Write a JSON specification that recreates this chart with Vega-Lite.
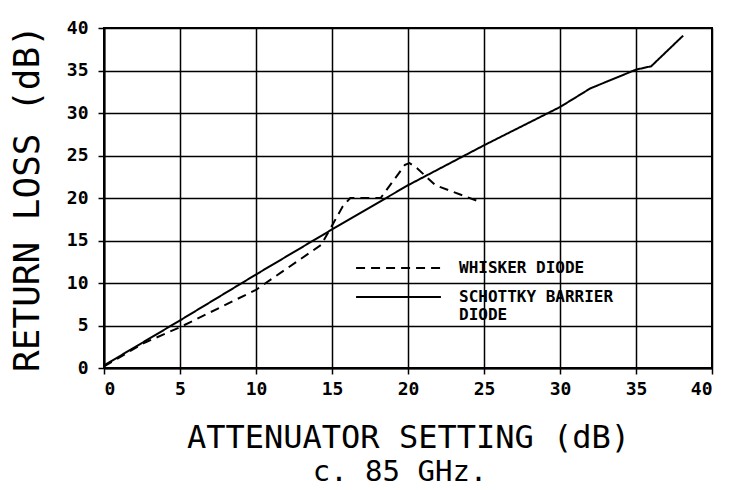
{
  "$schema": "https://vega.github.io/schema/vega-lite/v6.json",
  "autosize": {"type": "none"},
  "width": 608,
  "height": 340,
  "padding": {"left": 104, "top": 28, "right": 23, "bottom": 122},
  "background": "white",
  "title": {
    "text": "c. 85 GHz.",
    "orient": "bottom",
    "anchor": "middle",
    "font": "DejaVu Sans Mono",
    "fontSize": 29,
    "fontWeight": "normal",
    "color": "black",
    "offset": 5,
    "dx": -8
  },
  "data": {
    "values": [
      {"series": "SCHOTTKY BARRIER DIODE", "x": 0, "y": 0.3},
      {"series": "SCHOTTKY BARRIER DIODE", "x": 5, "y": 5.6},
      {"series": "SCHOTTKY BARRIER DIODE", "x": 10, "y": 11},
      {"series": "SCHOTTKY BARRIER DIODE", "x": 15, "y": 16.3},
      {"series": "SCHOTTKY BARRIER DIODE", "x": 20, "y": 21.5},
      {"series": "SCHOTTKY BARRIER DIODE", "x": 25, "y": 26.2},
      {"series": "SCHOTTKY BARRIER DIODE", "x": 30, "y": 30.7},
      {"series": "SCHOTTKY BARRIER DIODE", "x": 32, "y": 32.9},
      {"series": "SCHOTTKY BARRIER DIODE", "x": 35, "y": 35.1},
      {"series": "SCHOTTKY BARRIER DIODE", "x": 36, "y": 35.5},
      {"series": "SCHOTTKY BARRIER DIODE", "x": 38.1, "y": 39.1},
      {"series": "WHISKER DIODE", "x": 0, "y": 0.2},
      {"series": "WHISKER DIODE", "x": 2.7, "y": 3},
      {"series": "WHISKER DIODE", "x": 5, "y": 4.8},
      {"series": "WHISKER DIODE", "x": 10, "y": 9.2},
      {"series": "WHISKER DIODE", "x": 14.3, "y": 14.5},
      {"series": "WHISKER DIODE", "x": 15.7, "y": 19},
      {"series": "WHISKER DIODE", "x": 16.2, "y": 20},
      {"series": "WHISKER DIODE", "x": 18.2, "y": 20},
      {"series": "WHISKER DIODE", "x": 19.8, "y": 23.9},
      {"series": "WHISKER DIODE", "x": 20.1, "y": 24.1},
      {"series": "WHISKER DIODE", "x": 20.6, "y": 23.5},
      {"series": "WHISKER DIODE", "x": 21.8, "y": 21.5},
      {"series": "WHISKER DIODE", "x": 24.5, "y": 19.7}
    ]
  },
  "mark": {"type": "line", "color": "black", "strokeWidth": 2},
  "encoding": {
    "x": {
      "field": "x",
      "type": "quantitative",
      "scale": {"domain": [0, 40], "nice": false},
      "axis": {
        "title": "ATTENUATOR SETTING (dB)",
        "values": [0, 5, 10, 15, 20, 25, 30, 35, 40],
        "titlePadding": 24,
        "titleFontSize": 32
      }
    },
    "y": {
      "field": "y",
      "type": "quantitative",
      "scale": {"domain": [0, 40], "nice": false},
      "axis": {
        "title": "RETURN LOSS (dB)",
        "values": [0, 5, 10, 15, 20, 25, 30, 35, 40],
        "titlePadding": 20,
        "titleFontSize": 36,
        "labelPadding": 10
      }
    },
    "strokeDash": {
      "field": "series",
      "type": "nominal",
      "scale": {
        "domain": ["WHISKER DIODE", "SCHOTTKY BARRIER DIODE"],
        "range": [[9, 6], [1, 0]]
      },
      "legend": {
        "title": null,
        "orient": "none",
        "legendX": 251,
        "legendY": 230,
        "symbolType": "stroke",
        "symbolSize": 7200,
        "symbolStrokeWidth": 2,
        "symbolStrokeColor": "black",
        "clipHeight": 20,
        "labelFont": "DejaVu Sans Mono",
        "labelFontWeight": "bold",
        "labelFontSize": 16,
        "labelColor": "black",
        "labelOffset": 17,
        "labelLimit": 400,
        "rowPadding": 9,
        "padding": 0,
        "labelExpr": "datum.label == 'SCHOTTKY BARRIER DIODE' ? ['SCHOTTKY BARRIER', 'DIODE'] : datum.label"
      }
    }
  },
  "config": {
    "view": {"stroke": "black", "strokeWidth": 2},
    "axis": {
      "grid": true,
      "gridColor": "black",
      "gridOpacity": 1,
      "gridWidth": 1.5,
      "domainColor": "black",
      "domainWidth": 2,
      "tickColor": "black",
      "tickWidth": 1.5,
      "tickSize": 6,
      "labelFont": "DejaVu Sans Mono",
      "labelFontWeight": "bold",
      "labelFontSize": 18,
      "labelColor": "black",
      "labelPadding": 6,
      "titleFont": "DejaVu Sans Mono",
      "titleFontWeight": "normal",
      "titleColor": "black"
    }
  }
}
